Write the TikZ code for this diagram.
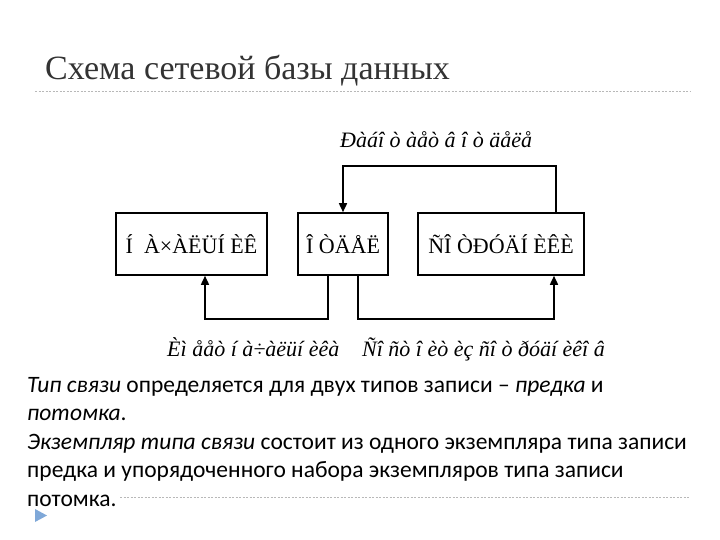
\documentclass[tikz,border=0pt]{standalone}
\usepackage{fontspec}
\setmainfont{Liberation Serif}
\newfontfamily\bodyfont{Carlito}
\usetikzlibrary{arrows.meta}
\definecolor{titlegray}{HTML}{333333}
\definecolor{bulletblue}{HTML}{7FA8D8}
\definecolor{rulegray}{HTML}{B8B8B8}
\tikzset{
  box/.style={draw, line width=1.6pt, minimum height=62pt, inner sep=0pt, font=\fontsize{22}{22}\selectfont},
  conn/.style={line width=1.6pt},
  arr/.style={conn, -{Triangle[width=8pt,length=9pt]}},
  lbl/.style={font=\fontsize{22}{22}\selectfont\itshape, anchor=base west, inner sep=0pt},
  bodyline/.style={font=\bodyfont\fontsize{23.5}{23.5}\selectfont, anchor=base west, inner sep=0pt},
  rule/.style={draw=rulegray, line width=0.6pt, dash pattern=on 2pt off 1.5pt}
}
\begin{document}
\begin{tikzpicture}[x=1pt,y=-1pt]
\useasboundingbox (0,0) rectangle (720,540);
% title
\node[anchor=base west, inner sep=0pt, text=titlegray, font=\fontsize{34}{34}\selectfont] (title) at (45,80) {Схема сетевой базы данных};
\draw[rule] (35,91) -- (690,91);
% boxes
\node[box, minimum width=151pt] (nach) at (191.5,244) {Í\ \ À×ÀËÜÍ ÈÊ};
\node[box, minimum width=90pt] (otdel) at (343,244) {Î ÒÄÅË};
\node[box, minimum width=166pt] (sotr) at (501,244) {ÑÎ ÒÐÓÄÍ ÈÊÈ};
% connectors
\draw[arr] ([xshift=55pt]sotr.north) -- ++(0,-46) -| (otdel.north);
\draw[arr] ([xshift=-15pt]otdel.south) -- ++(0,43) -| ([xshift=13.5pt]nach.south);
\draw[arr] ([xshift=15pt]otdel.south) -- ++(0,43) -| ([xshift=53pt]sotr.south);
% labels
\node[lbl] (ltop) at (340,148) {Ðàáî ò àåò  â î ò äåëå};
\node[lbl] (lleft) at (167,356) {Èì ååò  í à÷àëüí èêà};
\node[lbl] (lright) at (362,356) {Ñî ñò î èò  èç ñî ò ðóäí èêî â};
% body text
\node[bodyline] (b1) at (27,392) {\textit{Тип связи} определяется для двух типов записи – \textit{предка} и};
\node[bodyline] (b2) at (27,420.5) {\textit{потомка}.};
\node[bodyline] (b3) at (27,449) {\textit{Экземпляр типа связи} состоит из одного экземпляра типа записи};
\node[bodyline] (b4) at (27,477.5) {предка и упорядоченного набора экземпляров типа записи};
\node[bodyline] (b5) at (27,506) {потомка.};
\draw[rule] (120,497) -- (690,497);
\fill[bulletblue] (35,509) -- (47,515.5) -- (35,522) -- cycle;
\end{tikzpicture}
\end{document}
